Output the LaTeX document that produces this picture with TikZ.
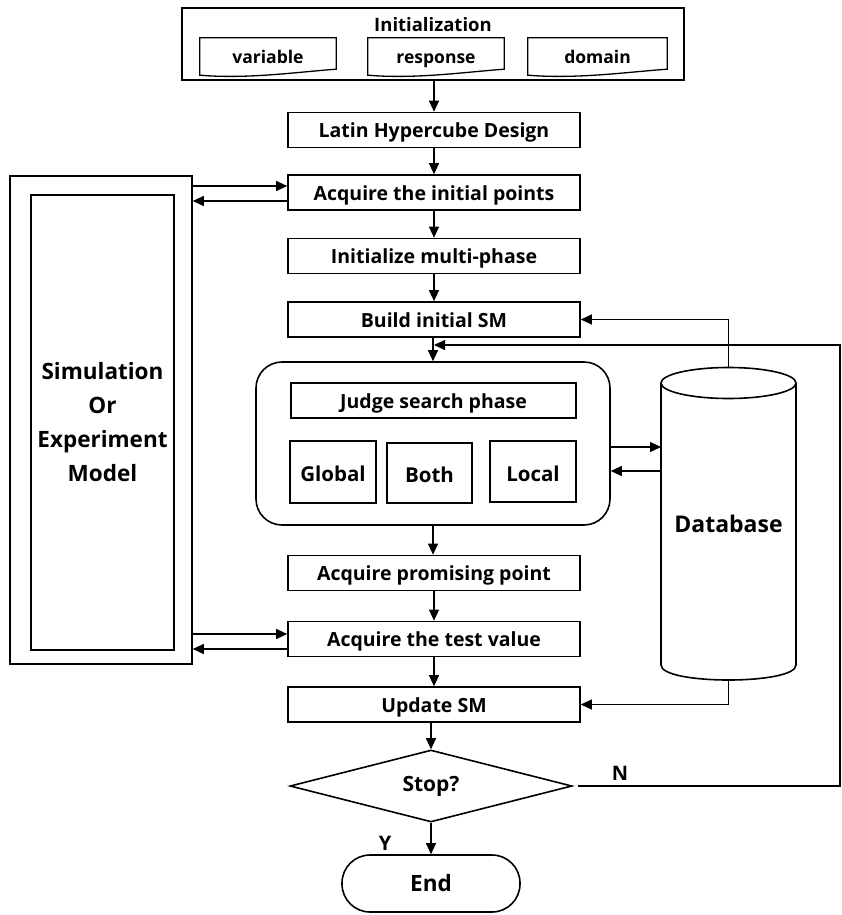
\documentclass[tikz,border=0pt]{standalone}
\usepackage{fontspec}
\setmainfont{Open Sans}
\usetikzlibrary{arrows.meta,shapes.geometric,calc}
\begin{document}
\begin{tikzpicture}[x=1pt,y=-1pt,
  box/.style={draw,line width=1.6pt,minimum width=292,minimum height=35,inner sep=0,text height=17,text depth=2,font=\fontsize{19.5}{22}\selectfont\bfseries},
  sbox/.style={draw,line width=1.6pt,inner sep=0,text height=21,text depth=2,font=\fontsize{20.5}{24}\selectfont\bfseries},
  lbl/.style={inner sep=0,font=\fontsize{20}{24}\selectfont\bfseries},
  doc/.style={inner sep=0,minimum width=136,minimum height=37,text height=18,text depth=3,font=\fontsize{17.5}{20}\selectfont\bfseries},
  conn/.style={line width=1.1pt,-{Triangle[length=11pt,width=10pt]}},
  line/.style={line width=1.1pt}
]
\useasboundingbox (0,0) rectangle (842,915);

% Initialization
\node[draw,line width=1.6pt,minimum width=502,minimum height=72,inner sep=0] (init) at (433,44) {};
\node[lbl,font=\fontsize{18.5}{22}\selectfont\bfseries] (inittxt) at (433,25) {Initialization};
\node[doc] (var) at (268,56.5) {variable};
\node[doc] (resp) at (436,56.5) {response};
\node[doc,minimum width=139] (dom) at (597.5,56.5) {domain};
\foreach \d/\w in {var/136,resp/136,dom/139}{
  \draw[line width=1.3pt] (\d.north west) -- (\d.north east) -- ($(\d.south east)+(0,-6)$)
    .. controls ($(\d.south east)+(-0.3*\w,-3)$) and ($(\d.south west)+(0.35*\w,4)$) .. (\d.south west) -- cycle;
}

% main column
\node[box] (lhd) at (434,130) {Latin Hypercube Design};
\node[box] (acq1) at (434,192.5) {Acquire the initial points};
\node[box] (imp) at (434,256) {Initialize multi-phase};
\node[box] (bsm) at (434,319.5) {Build initial SM};
\node[draw,line width=1.6pt,rounded corners=26,minimum width=354,minimum height=163,inner sep=0] (rb) at (433,443.5) {};
\node[box,minimum width=285] (judge) at (433.5,400.5) {Judge search phase};
\node[sbox,minimum width=86,minimum height=62] (glob) at (333,472) {Global};
\node[sbox,minimum width=85,minimum height=60] (both) at (429.5,473) {Both};
\node[sbox,minimum width=86,minimum height=61] (loc) at (533,471.5) {Local};
\node[box] (prom) at (434,573) {Acquire promising point};
\node[box] (test) at (434,639) {Acquire the test value};
\node[box] (usm) at (434,704.5) {Update SM};
\node[draw,line width=1.6pt,shape=diamond,aspect=3.9,minimum width=282,minimum height=72,inner sep=0,font=\fontsize{21}{24}\selectfont\bfseries] (stop) at (431,786) {Stop?};
\node[draw,line width=1.6pt,rounded corners=28,minimum width=178,minimum height=57,inner sep=0,font=\fontsize{22.5}{26}\selectfont\bfseries] (end) at (431,883.5) {End};

% simulation model
\node[draw,line width=1.6pt,minimum width=182,minimum height=488,inner sep=0] (sim) at (101,420) {};
\node[draw,line width=1.6pt,minimum width=143,minimum height=455,inner sep=0,align=center,font=\fontsize{22.5}{34}\selectfont\bfseries] (simin) at (102.5,422.5) {Simulation\\Or\\Experiment\\Model};

% database cylinder
\node[inner sep=0,minimum width=135,minimum height=313,font=\fontsize{23}{26}\selectfont\bfseries] (db) at (728.5,523.5) {Database};
\coordinate (dbtop) at (728.5,367);
\coordinate (dbbot) at (728.5,680);
\draw[line width=1.6pt] (661,383) -- (661,665) .. controls (661,685) and (796,685) .. (796,665) -- (796,383);
\draw[line width=1.6pt] (728.5,383) ellipse [x radius=67.5, y radius=15.5];

% main arrows
\draw[conn] (lhd.north |- init.south) -- (lhd.north);
\draw[conn] (lhd) -- (acq1);
\draw[conn] (acq1) -- (imp);
\draw[conn] (imp) -- (bsm);
\draw[conn] (bsm.south -| rb) -- (rb.north);
\draw[conn] (rb.south) -- (prom.north -| rb);
\draw[conn] (prom) -- (test);
\draw[conn] (test) -- (usm);
\draw[conn] (usm.south -| stop) -- (stop.north);
\draw[conn] (stop) -- (end);

% simulation links
\coordinate (s1) at (0,186); \coordinate (s2) at (0,201);
\coordinate (s3) at (0,634); \coordinate (s4) at (0,649);
\draw[conn] (sim.east |- s1) -- (acq1.west |- s1);
\draw[conn] (acq1.west |- s2) -- (sim.east |- s2);
\draw[conn] (sim.east |- s3) -- (test.west |- s3);
\draw[conn] (test.west |- s4) -- (sim.east |- s4);

% database links
\coordinate (d1) at (0,447); \coordinate (d2) at (0,471);
\draw[conn] (rb.east |- d1) -- (661,447);
\draw[conn] (661,471) -- (rb.east |- d2);
\draw[conn] (dbtop) |- (bsm.east);
\draw[conn] (dbbot) |- (usm.east);

% feedback
\coordinate (fbs) at (578,786);
\coordinate (fbc) at (840,345);
\draw[conn] (fbs) -| (fbc) -- (bsm.south |- fbc);
\node[lbl] (n) at (620,773) {N};
\node[lbl] (y) at (385,843) {Y};
\end{tikzpicture}
\end{document}
